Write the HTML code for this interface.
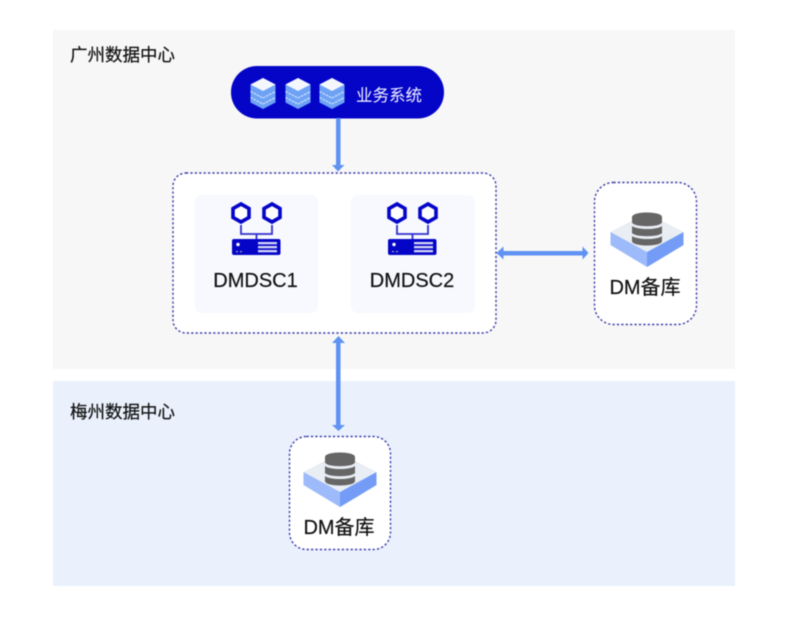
<!DOCTYPE html>
<html lang="zh">
<head>
<meta charset="utf-8">
<style>
html,body{margin:0;padding:0;background:#fff;width:802px;height:624px;overflow:hidden}
svg{display:block;filter:blur(.55px)}
text{font-family:"Liberation Sans","Noto Sans CJK SC",sans-serif;fill:#111;stroke:#111;stroke-width:.2px}
</style>
</head>
<body>
<svg width="802" height="624" viewBox="0 0 802 624" xmlns="http://www.w3.org/2000/svg">
<defs>
  <g id="stack">
    <path d="M0-15.500 12.500-9V9L0 15.500-12.500 9V-9Z" fill="#6ea2f5"/>
    <path d="M-12.500-2 0 4.500 12.500-2M-12.500 4 0 10.500 12.500 4" fill="none" stroke="#d5e4fc" stroke-width="1.200" stroke-dasharray="2.500 1"/>
    <path d="M0-15.500 12.500-9 0-2.500-12.500-9Z" fill="#f4f7fe"/>
  </g>
  <g id="server">
    <path d="M9-14V-5H40V-14M24.500-5V0" fill="none" stroke="#3030cc" stroke-width="1.800"/>
    <path d="M9-35 17-30.500V-21.500L9-17 1-21.500V-30.500Z" fill="#fff" stroke="#0505c8" stroke-width="3.600"/>
    <path d="M40-35 48-30.500V-21.500L40-17 32-21.500V-30.500Z" fill="#fff" stroke="#0505c8" stroke-width="3.600"/>
    <rect x="0" y="0" width="48.500" height="16" rx="2" fill="#0505c8"/>
    <rect x="26" y="3" width="19" height="2.300" fill="#d5d5f8"/>
    <rect x="26" y="7" width="19" height="2.300" fill="#d5d5f8"/>
    <rect x="26" y="11" width="19" height="2.300" fill="#d5d5f8"/>
    <circle cx="6" cy="5.500" r="1.700" fill="#fff"/>
    <rect x="4" y="12" width="2" height="1.200" fill="#aab"/>
    <rect x="8" y="12" width="2" height="1.200" fill="#aab"/>
  </g>
  <g id="db">
    <path d="M-36.500-18 0 1 36.500-18V-5L0 17-36.500-5Z" fill="#9dbafa"/>
    <path d="M0 2 36.500-18V-5L0 17Z" fill="#749cf7"/>
    <path d="M0-37 36.500-18 0 2-36.500-18Z" fill="#e9edf4"/>
    <path d="M-15-33c0-6 30-6 30 0v5c0 6-30 6-30 0Z" fill="#666"/>
    <path d="M-15-24c5 4 25 4 30 0v7c0 6-30 6-30 0Z" fill="#666"/>
    <path d="M-15-14c5 4 25 4 30 0v5c0 6-30 6-30 0Z" fill="#666"/>
    <path d="M-15-26c5 4 25 4 30 0M-15-16c5 4 25 4 30 0" fill="none" stroke="#e9edf4" stroke-width="1.600"/>
  </g>
</defs>

<rect x="53" y="30" width="682" height="339" fill="#f7f7f7"/>
<rect x="53" y="381" width="682" height="205" fill="#eaf1fd"/>

<text x="70" y="61" font-size="17.500">广州数据中心</text>
<text x="70" y="418" font-size="17.500">梅州数据中心</text>

<rect x="231" y="66" width="213" height="52.500" rx="26" fill="#0505c8"/>
<use href="#stack" x="263" y="93.500"/>
<use href="#stack" x="298" y="93.500"/>
<use href="#stack" x="332" y="93.500"/>
<text x="356" y="101" font-size="16.500" style="fill:#f4f4ff;stroke:none">业务系统</text>

<rect x="173" y="173" width="323" height="160" rx="13" fill="#fff" stroke="#3a3aa8" stroke-width="1.400" stroke-dasharray="2.200 2.200"/>
<rect x="195" y="195" width="123" height="118" rx="7" fill="#f7f9fe"/>
<rect x="351" y="195" width="124" height="118" rx="7" fill="#f7f9fe"/>
<use href="#server" x="232" y="239"/>
<use href="#server" x="388" y="239"/>
<text x="255.500" y="287" font-size="20" text-anchor="middle">DMDSC1</text>
<text x="412" y="287" font-size="20" text-anchor="middle">DMDSC2</text>

<rect x="594.500" y="182.500" width="102" height="142" rx="19" fill="#fff" stroke="#3a3aa8" stroke-width="1.400" stroke-dasharray="2.200 2.200"/>
<use href="#db" x="647" y="250"/>
<text x="645" y="294" font-size="20" text-anchor="middle">DM备库</text>

<rect x="289.500" y="436.500" width="101" height="113" rx="17" fill="#fff" stroke="#3a3aa8" stroke-width="1.400" stroke-dasharray="2.200 2.200"/>
<use href="#db" x="340" y="490"/>
<text x="339" y="534" font-size="20" text-anchor="middle">DM备库</text>

<g fill="#5f92f3">
  <rect x="336" y="118" width="4.500" height="48"/>
  <path d="M332 165H344.500L338 171.500Z"/>
  <rect x="502" y="251" width="83" height="4.500"/>
  <path d="M496.500 253 503.500 246.500V259.500Z"/>
  <path d="M588.500 253 582.500 246.500V259.500Z"/>
  <rect x="336" y="342" width="4.500" height="86"/>
  <path d="M338.500 336 345 343H332Z"/>
  <path d="M338.500 431 345 425H332Z"/>
</g>
</svg>
</body>
</html>
